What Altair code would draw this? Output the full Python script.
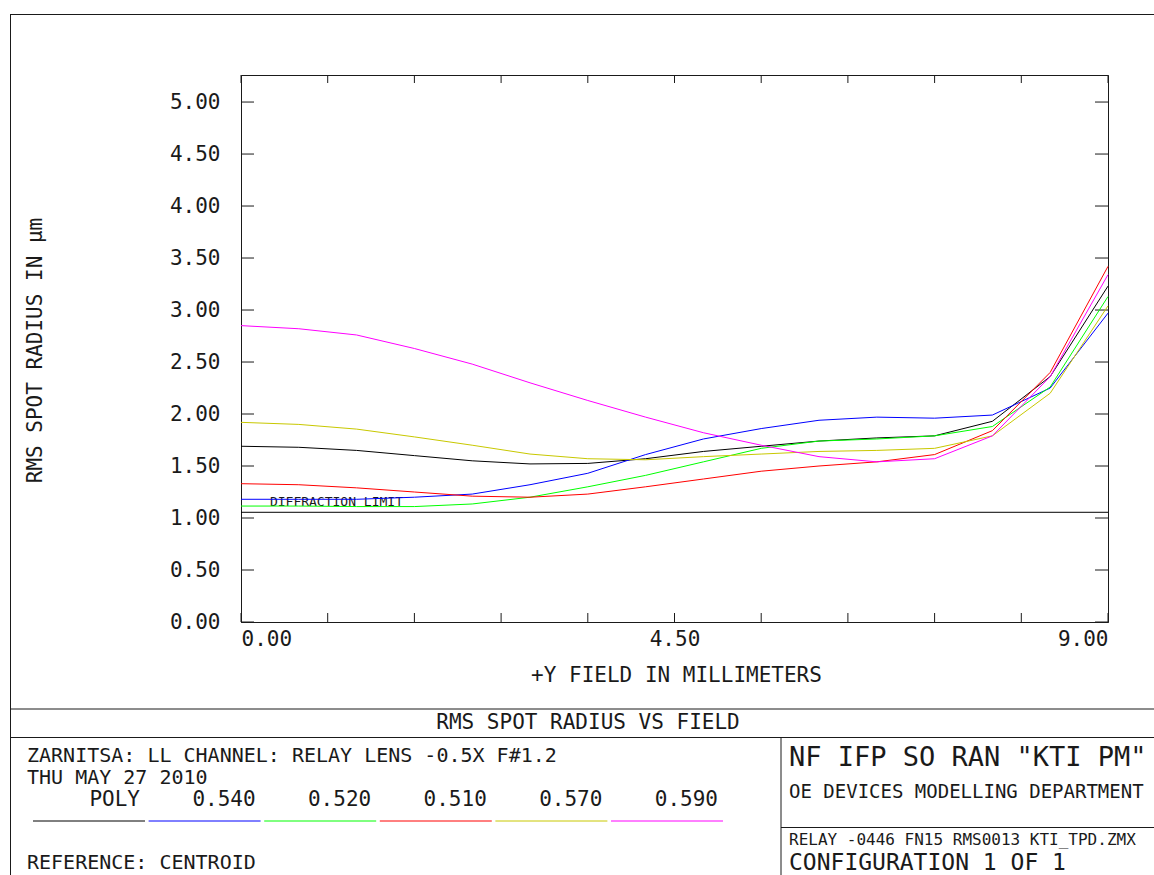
import altair as alt
import pandas as pd

# ---------------- data ----------------
field_mm = [0.0, 0.6, 1.2, 1.8, 2.4, 3.0, 3.6, 4.2, 4.8, 5.4, 6.0, 6.6, 7.2, 7.8, 8.4, 9.0]
rms_poly = [1.69, 1.68, 1.65, 1.60, 1.55, 1.52, 1.525, 1.57, 1.64, 1.69, 1.74, 1.77, 1.79, 1.93, 2.36, 3.23]
rms_540 = [1.18, 1.18, 1.18, 1.20, 1.23, 1.32, 1.43, 1.61, 1.76, 1.86, 1.94, 1.97, 1.96, 1.99, 2.25, 2.97]
rms_520 = [1.115, 1.115, 1.11, 1.11, 1.135, 1.20, 1.30, 1.41, 1.54, 1.67, 1.74, 1.76, 1.79, 1.88, 2.26, 3.13]
rms_510 = [1.33, 1.32, 1.29, 1.25, 1.21, 1.20, 1.23, 1.30, 1.375, 1.45, 1.50, 1.54, 1.61, 1.84, 2.40, 3.42]
rms_570 = [1.92, 1.90, 1.855, 1.78, 1.70, 1.615, 1.57, 1.56, 1.59, 1.615, 1.64, 1.65, 1.67, 1.79, 2.20, 3.04]
rms_590 = [2.85, 2.82, 2.76, 2.63, 2.48, 2.30, 2.13, 1.97, 1.82, 1.70, 1.59, 1.54, 1.57, 1.79, 2.36, 3.34]

series_names = ["POLY", "0.540", "0.520", "0.510", "0.570", "0.590"]
series_values = [rms_poly, rms_540, rms_520, rms_510, rms_570, rms_590]
series_colors = ["#000000", "#0000ff", "#00ff00", "#ff0000", "#c8c800", "#ff00ff"]

y_tick_values = [0.0, 0.5, 1.0, 1.5, 2.0, 2.5, 3.0, 3.5, 4.0, 4.5, 5.0]
x_tick_values = [0.0, 0.9, 1.8, 2.7, 3.6, 4.5, 5.4, 6.3, 7.2, 8.1, 9.0]
x_label_values = [0.0, 4.5, 9.0]
diffraction_limit = 1.055

# ---------------- tables ----------------
rows = []
for name, vals in zip(series_names, series_values):
    for f, v in zip(field_mm, vals):
        rows.append({"field": f, "rms": v, "series": name})
df = pd.DataFrame(rows)
ytick_df = pd.DataFrame({"rms": y_tick_values})
xtick_df = pd.DataFrame({"field": x_tick_values})
dl_df = pd.DataFrame({"field": [0.3], "rms": [diffraction_limit], "label": ["DIFFRACTION LIMIT"]})

# ---------------- layout ----------------
CW, CH = 1154, 875
OX, OY = 241, 75          # plot origin on the page
W, H = 867, 547           # plot area
FONT = "DejaVu Sans Mono"
INK = "#1a1a1a"

def px(x):
    return x - OX

def py(y):
    return y - OY

xscale = alt.Scale(domain=[0, 9], nice=False, zero=False)
yscale = alt.Scale(domain=[0, 5.26], nice=False, zero=False)

x_axis = alt.Axis(
    values=x_label_values, format=".2f", labelFlush=True, labelOverlap=False,
    ticks=False, grid=False, domainColor=INK, domainWidth=1,
    labelFont=FONT, labelFontSize=21, labelColor=INK, labelPadding=6,
    title="+Y FIELD IN MILLIMETERS", titleFont=FONT, titleFontSize=21,
    titleFontWeight="normal", titleColor=INK, titleX=px(676), titleY=53,
    titleAlign="center", titleBaseline="middle",
)
y_axis = alt.Axis(
    values=y_tick_values, format=".2f", labelFlush=False, labelOverlap=False,
    ticks=False, grid=False, domainColor=INK, domainWidth=1,
    labelFont=FONT, labelFontSize=21, labelColor=INK, labelPadding=21,
    title="RMS SPOT RADIUS IN µm", titleFont=FONT, titleFontSize=21,
    titleFontWeight="normal", titleColor=INK, titleAngle=270,
    titleX=px(35), titleY=py(350), titleAlign="center", titleBaseline="middle",
)

X = alt.X("field:Q", scale=xscale, axis=x_axis)
Y = alt.Y("rms:Q", scale=yscale, axis=y_axis)

blank = alt.Data(values=[{}])

def hline(x1, x2, y, color=INK, width=1):
    return alt.Chart(blank).mark_rule(color=color, strokeWidth=width).encode(
        x=alt.value(px(x1)), x2=alt.value(px(x2)), y=alt.value(py(y)))

def vline(x, y1, y2, color=INK, width=1):
    return alt.Chart(blank).mark_rule(color=color, strokeWidth=width).encode(
        x=alt.value(px(x)), y=alt.value(py(y1)), y2=alt.value(py(y2)))

def label(text, x, y, size, align="left"):
    return alt.Chart(blank).mark_text(
        text=text, align=align, baseline="middle", font=FONT, fontSize=size, color=INK
    ).encode(x=alt.value(px(x)), y=alt.value(py(y)))

layers = []

# outer frame and title block
layers += [
    hline(10, CW, 14.5),
    vline(10.5, 14.5, CH),
    hline(10, CW, 709),
    hline(10, CW, 737.5),
    vline(781, 737.5, CH),
    hline(781, CW, 827.5),
]
layers += [
    label("RMS SPOT RADIUS VS FIELD", 588, 723, 21, "center"),
    label("ZARNITSA: LL CHANNEL: RELAY LENS -0.5X F#1.2", 27, 756, 20),
    label("THU MAY 27 2010", 27, 778, 20),
    label("REFERENCE: CENTROID", 27, 863, 20),
    label('NF IFP SO RAN "KTI PM"', 789, 758, 27),
    label("OE DEVICES MODELLING DEPARTMENT", 789, 792, 19),
    label("RELAY -0446 FN15 RMS0013 KTI_TPD.ZMX", 789, 840, 16),
    label("CONFIGURATION 1 OF 1", 789, 862.5, 23),
]
# legend in the title block
for i, (name, col) in enumerate(zip(series_names, series_colors)):
    x0 = 33 + i * 115.6
    x1 = x0 + 112
    layers.append(hline(x0, x1, 821, color=col, width=1))
    layers.append(label(name, x1 - 5, 800, 21, "right"))

# inward tick marks
layers += [
    alt.Chart(ytick_df).mark_rule(color=INK, strokeWidth=1).encode(
        y=Y, x=alt.value(0), x2=alt.value(13)),
    alt.Chart(ytick_df).mark_rule(color=INK, strokeWidth=1).encode(
        y=Y, x=alt.value(W - 13), x2=alt.value(W)),
    alt.Chart(xtick_df).mark_rule(color=INK, strokeWidth=1).encode(
        x=X, y=alt.value(H - 9), y2=alt.value(H)),
    alt.Chart(xtick_df).mark_rule(color=INK, strokeWidth=1).encode(
        x=X, y=alt.value(0), y2=alt.value(8)),
]

# diffraction limit
layers += [
    alt.Chart(dl_df).mark_rule(color="#000000", strokeWidth=1).encode(
        y=Y, x=alt.value(0), x2=alt.value(W)),
    alt.Chart(dl_df).mark_text(align="left", baseline="middle", dy=-10, font=FONT,
                               fontSize=13, color=INK).encode(x=X, y=Y, text="label:N"),
]

# data lines
layers.append(
    alt.Chart(df).mark_line(strokeWidth=1, interpolate="linear").encode(
        x=X, y=Y,
        color=alt.Color("series:N", scale=alt.Scale(domain=series_names, range=series_colors),
                        legend=None),
        order=alt.Order("field:Q"),
    )
)

chart = alt.layer(*layers).properties(
    width=W, height=H,
    autosize=alt.AutoSizeParams(type="none"),
    padding={"left": OX, "top": OY, "right": CW - OX - W, "bottom": CH - OY - H},
    background="white",
).configure_view(stroke=INK, strokeWidth=1)

chart.save("out.html", embed_options={"renderer": "svg", "actions": False})
